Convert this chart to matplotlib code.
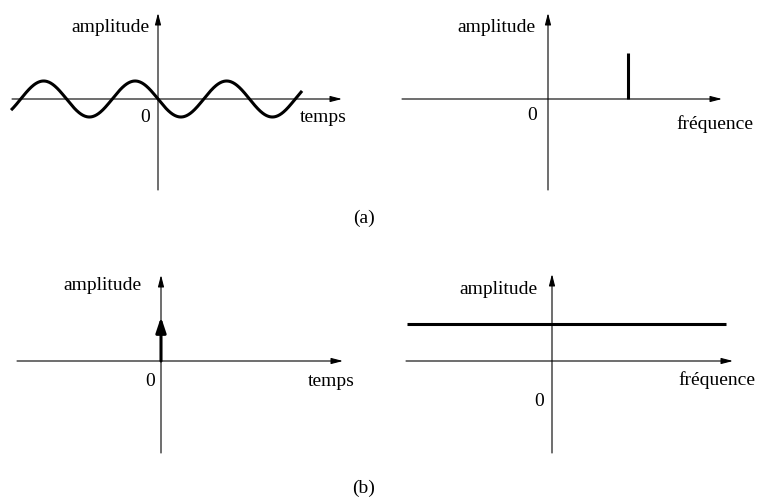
import matplotlib.pyplot as plt
import numpy as np

W, H = 757, 501
plt.rcParams['font.family'] = ['Liberation Serif', 'DejaVu Serif']
FS = 14

# (a) a pure sinusoid and its single spectral line
sine_amplitude = 1.0
sine_frequency = 1.0
sine_t_start, sine_t_end = -1.606, 1.574
line_frequency = [1.0]
line_amplitude = [1.0]

# (b) an impulse at t=0 and its flat spectrum
impulse_time = 0.0
impulse_height = 1.0
flat_freq_range = [-1.81, 2.175]
flat_level = 1.0

fig = plt.figure(figsize=(W / 100, H / 100), dpi=100)


def panel(box, origin, scale):
    """Axes covering a pixel box, data origin at a pixel, scale in px/unit."""
    l, t, r, b = box
    ax = fig.add_axes([l / W, 1 - b / H, (r - l) / W, (b - t) / H])
    ox, oy = origin
    sx, sy = scale
    ax.set_xlim((l - ox) / sx, (r - ox) / sx)
    ax.set_ylim((oy - b) / sy, (oy - t) / sy)
    ax.axis('off')
    return ax


def draw_axes(ax, origin, scale, xspan, yspan):
    ox, oy = origin
    sx, sy = scale
    arrow = dict(arrowstyle='-|>,head_length=0.7,head_width=0.18',
                 lw=0.8, color='black', shrinkA=0, shrinkB=0)
    ax.annotate('', xy=((xspan[1] - ox) / sx, 0), xytext=((xspan[0] - ox) / sx, 0),
                arrowprops=arrow, annotation_clip=False)
    ax.annotate('', xy=(0, (oy - yspan[1]) / sy), xytext=(0, (oy - yspan[0]) / sy),
                arrowprops=arrow, annotation_clip=False)


def label(x, y, s, ha='left'):
    fig.text(x / W, 1 - y / H, s, fontsize=FS, ha=ha, va='center')


# --- (a) left: time domain
o, s = (158, 99), (91.5, 18)
ax = panel((0, 0, 378, 200), o, s)
draw_axes(ax, o, s, (12, 342), (190, 13))
t = np.linspace(sine_t_start, sine_t_end, 600)
ax.plot(t, -sine_amplitude * np.sin(2 * np.pi * sine_frequency * t),
        color='black', lw=2.2, solid_capstyle='butt')
label(149, 28, 'amplitude', ha='right')
label(150, 117, '0', ha='right')
label(300, 118, 'temps')

# --- (a) right: frequency domain
o, s = (548, 99), (80, 46)
ax = panel((380, 0, 757, 200), o, s)
draw_axes(ax, o, s, (402, 722), (190, 13))
ax.vlines(line_frequency, 0, line_amplitude, color='black', lw=2.2)
label(535, 28, 'amplitude', ha='right')
label(537, 115, '0', ha='right')
label(676, 124, 'fréquence')

label(364, 218, '(a)', ha='center')

# --- (b) left: impulse
o, s = (161, 361), (91.5, 44)
ax = panel((0, 250, 378, 470), o, s)
draw_axes(ax, o, s, (17, 343), (453, 275))
ax.annotate('', xy=(impulse_time, impulse_height), xytext=(impulse_time, 0),
            arrowprops=dict(arrowstyle='-|>,head_length=0.9,head_width=0.3',
                            lw=2.2, color='black', shrinkA=0, shrinkB=0))
label(141, 286, 'amplitude', ha='right')
label(155, 381, '0', ha='right')
label(308, 381, 'temps')

# --- (b) right: flat spectrum
o, s = (552, 361), (80, 37)
ax = panel((380, 250, 757, 470), o, s)
draw_axes(ax, o, s, (406, 733), (453, 274))
ax.hlines(flat_level, flat_freq_range[0], flat_freq_range[1], color='black', lw=2.2)
label(538, 290, 'amplitude', ha='right')
label(544, 401, '0', ha='right')
label(678, 380, 'fréquence')

label(364, 488, '(b)', ha='center')

fig.savefig('out.png', dpi=100, facecolor='white')
